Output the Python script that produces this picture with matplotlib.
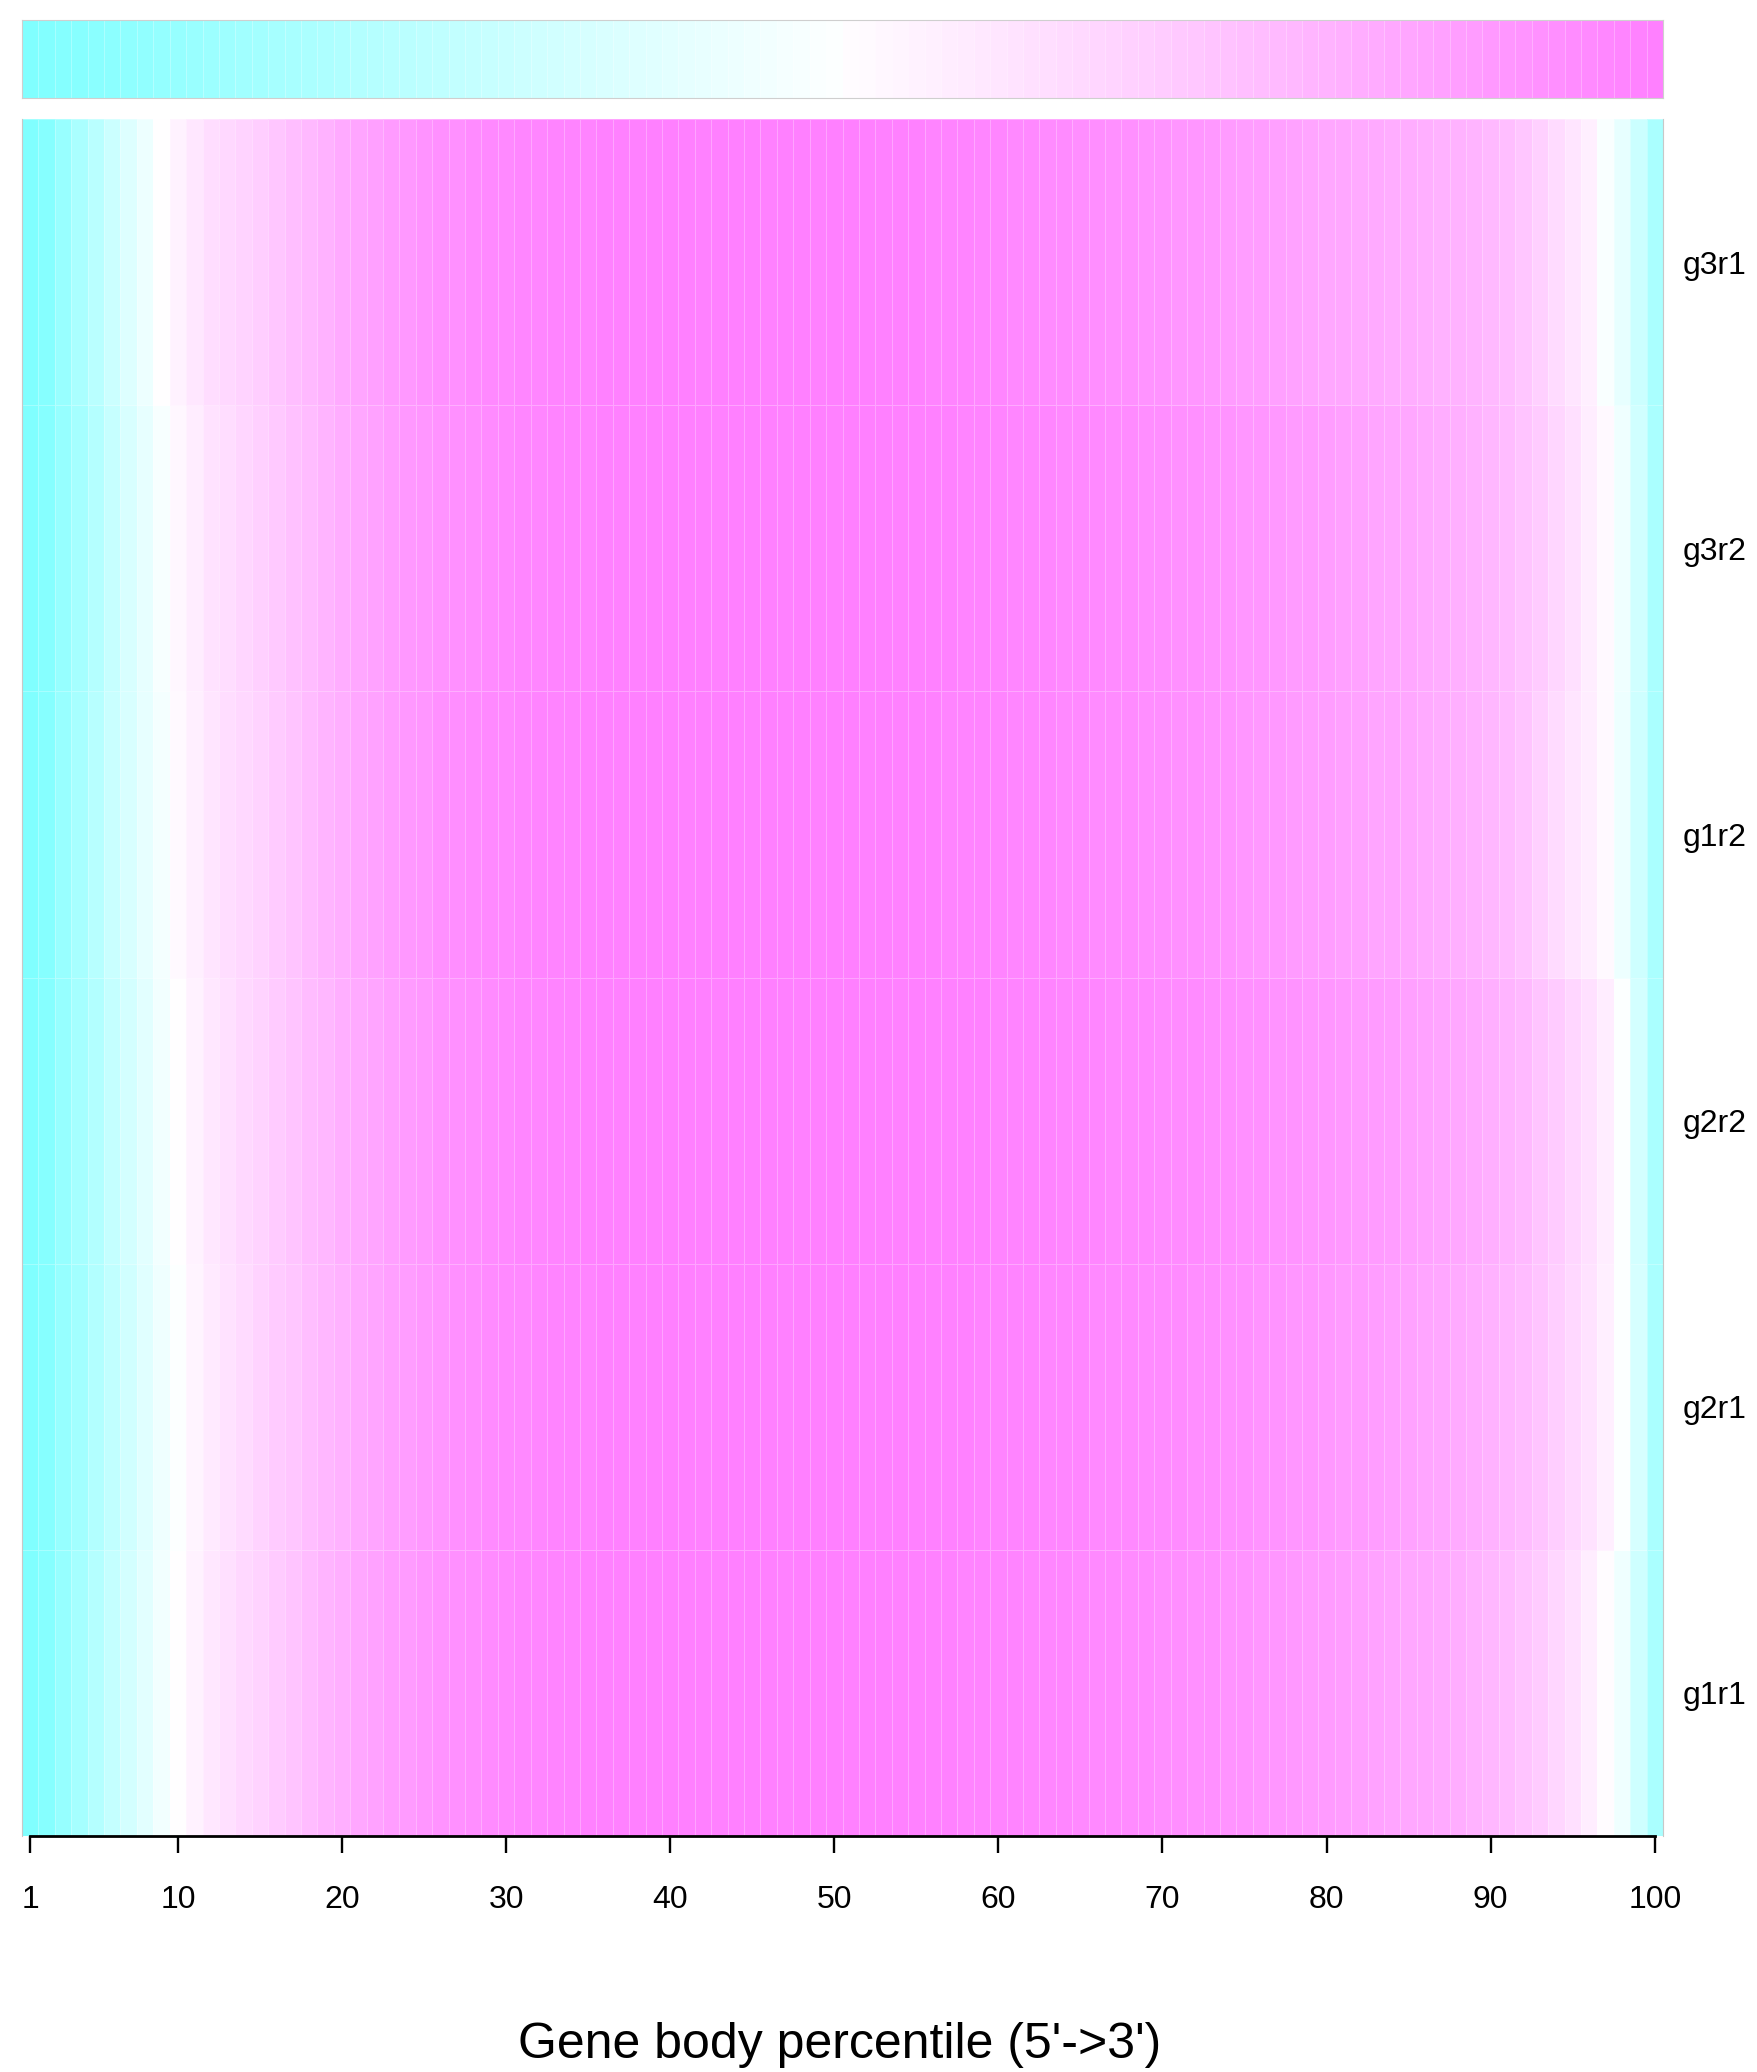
import numpy as np
import matplotlib
matplotlib.use("Agg")
import matplotlib.pyplot as plt
from matplotlib.colors import ListedColormap

plt.rcParams['font.family'] = ['Liberation Sans', 'DejaVu Sans']

# scaled gene body coverage (0 = min, 1 = max of each sample), percentiles 1..100
percentile = list(range(1, 101))

g3r1 = [0.00, 0.03, 0.10, 0.17, 0.23, 0.30, 0.37, 0.43, 0.50, 0.55,
        0.59, 0.63, 0.65, 0.67, 0.69, 0.72, 0.75, 0.77, 0.80, 0.83,
        0.85, 0.87, 0.89, 0.90, 0.92, 0.93, 0.93, 0.95, 0.96, 0.96,
        0.97, 0.97, 0.98, 0.98, 0.98, 0.99, 0.99, 0.99, 1.00, 1.00,
        1.00, 0.99, 1.00, 1.00, 1.00, 0.99, 1.00, 1.00, 0.99, 1.00,
        1.00, 1.00, 0.99, 0.99, 0.99, 0.98, 0.98, 0.98, 0.97, 0.97,
        0.96, 0.96, 0.95, 0.95, 0.94, 0.94, 0.93, 0.93, 0.92, 0.92,
        0.91, 0.91, 0.90, 0.89, 0.88, 0.88, 0.87, 0.86, 0.85, 0.84,
        0.84, 0.83, 0.83, 0.82, 0.82, 0.81, 0.80, 0.80, 0.79, 0.77,
        0.75, 0.72, 0.68, 0.64, 0.60, 0.56, 0.48, 0.41, 0.30, 0.17]

g3r2 = [0.00, 0.03, 0.09, 0.15, 0.21, 0.28, 0.35, 0.41, 0.47, 0.53,
        0.57, 0.61, 0.63, 0.66, 0.68, 0.71, 0.74, 0.76, 0.79, 0.82,
        0.84, 0.86, 0.88, 0.90, 0.91, 0.92, 0.93, 0.94, 0.95, 0.96,
        0.97, 0.97, 0.98, 0.98, 0.98, 0.99, 0.99, 0.99, 1.00, 1.00,
        1.00, 1.00, 0.99, 1.00, 1.00, 1.00, 0.99, 1.00, 1.00, 0.99,
        1.00, 1.00, 1.00, 0.99, 0.99, 0.99, 0.99, 0.98, 0.98, 0.98,
        0.97, 0.97, 0.97, 0.96, 0.96, 0.96, 0.95, 0.95, 0.94, 0.94,
        0.93, 0.93, 0.92, 0.92, 0.91, 0.91, 0.90, 0.89, 0.89, 0.88,
        0.87, 0.86, 0.85, 0.84, 0.84, 0.83, 0.82, 0.81, 0.80, 0.78,
        0.76, 0.73, 0.70, 0.66, 0.62, 0.57, 0.52, 0.44, 0.32, 0.17]

g1r2 = [0.00, 0.03, 0.10, 0.16, 0.22, 0.29, 0.35, 0.41, 0.46, 0.52,
        0.56, 0.60, 0.63, 0.65, 0.67, 0.70, 0.73, 0.76, 0.79, 0.81,
        0.84, 0.86, 0.88, 0.90, 0.91, 0.93, 0.94, 0.95, 0.96, 0.96,
        0.97, 0.98, 0.98, 0.98, 0.99, 0.99, 0.99, 1.00, 1.00, 1.00,
        0.99, 1.00, 1.00, 1.00, 0.99, 1.00, 1.00, 1.00, 0.99, 1.00,
        1.00, 0.99, 1.00, 0.99, 0.99, 0.99, 0.98, 0.98, 0.98, 0.98,
        0.97, 0.97, 0.97, 0.96, 0.96, 0.95, 0.95, 0.95, 0.94, 0.94,
        0.93, 0.93, 0.92, 0.92, 0.91, 0.90, 0.90, 0.89, 0.88, 0.88,
        0.87, 0.86, 0.85, 0.85, 0.84, 0.83, 0.82, 0.81, 0.80, 0.78,
        0.76, 0.73, 0.68, 0.64, 0.60, 0.57, 0.52, 0.43, 0.31, 0.17]

g2r2 = [0.00, 0.03, 0.09, 0.15, 0.20, 0.27, 0.33, 0.39, 0.45, 0.50,
        0.55, 0.59, 0.62, 0.65, 0.67, 0.70, 0.73, 0.76, 0.78, 0.81,
        0.83, 0.85, 0.87, 0.89, 0.90, 0.92, 0.93, 0.94, 0.95, 0.96,
        0.97, 0.97, 0.98, 0.98, 0.99, 0.99, 0.99, 1.00, 1.00, 1.00,
        1.00, 1.00, 0.99, 1.00, 1.00, 1.00, 1.00, 0.99, 1.00, 1.00,
        1.00, 1.00, 1.00, 0.99, 1.00, 0.99, 0.99, 0.99, 0.99, 0.98,
        0.98, 0.98, 0.98, 0.97, 0.97, 0.97, 0.96, 0.96, 0.96, 0.95,
        0.95, 0.95, 0.94, 0.94, 0.93, 0.93, 0.92, 0.92, 0.91, 0.91,
        0.90, 0.89, 0.89, 0.88, 0.87, 0.86, 0.85, 0.84, 0.83, 0.81,
        0.79, 0.77, 0.73, 0.70, 0.66, 0.62, 0.57, 0.49, 0.33, 0.17]

g2r1 = [0.00, 0.03, 0.09, 0.14, 0.20, 0.26, 0.32, 0.38, 0.44, 0.49,
        0.54, 0.58, 0.61, 0.64, 0.67, 0.70, 0.72, 0.75, 0.78, 0.80,
        0.83, 0.85, 0.87, 0.88, 0.90, 0.91, 0.93, 0.94, 0.95, 0.96,
        0.96, 0.97, 0.98, 0.98, 0.98, 0.99, 0.99, 0.99, 1.00, 1.00,
        1.00, 0.99, 1.00, 1.00, 1.00, 1.00, 0.99, 1.00, 1.00, 1.00,
        1.00, 0.99, 1.00, 1.00, 0.99, 0.99, 0.99, 0.99, 0.98, 0.98,
        0.98, 0.98, 0.97, 0.97, 0.97, 0.96, 0.96, 0.96, 0.95, 0.95,
        0.95, 0.94, 0.94, 0.93, 0.93, 0.92, 0.92, 0.91, 0.91, 0.90,
        0.89, 0.89, 0.88, 0.87, 0.86, 0.85, 0.84, 0.83, 0.82, 0.80,
        0.78, 0.76, 0.73, 0.69, 0.65, 0.61, 0.56, 0.49, 0.34, 0.17]

g1r1 = [0.00, 0.03, 0.09, 0.15, 0.21, 0.27, 0.33, 0.39, 0.45, 0.50,
        0.55, 0.59, 0.62, 0.65, 0.67, 0.70, 0.73, 0.76, 0.79, 0.81,
        0.84, 0.86, 0.88, 0.89, 0.91, 0.92, 0.93, 0.94, 0.95, 0.96,
        0.97, 0.97, 0.98, 0.98, 0.99, 0.99, 0.99, 1.00, 1.00, 1.00,
        1.00, 1.00, 0.99, 1.00, 1.00, 1.00, 0.99, 1.00, 1.00, 1.00,
        0.99, 1.00, 1.00, 0.99, 0.99, 0.99, 0.99, 0.98, 0.98, 0.98,
        0.98, 0.97, 0.97, 0.97, 0.96, 0.96, 0.96, 0.95, 0.95, 0.94,
        0.94, 0.93, 0.93, 0.92, 0.92, 0.91, 0.91, 0.90, 0.89, 0.89,
        0.88, 0.87, 0.86, 0.85, 0.84, 0.84, 0.83, 0.82, 0.80, 0.78,
        0.76, 0.73, 0.70, 0.66, 0.62, 0.57, 0.51, 0.44, 0.31, 0.17]

# bottom row first, like R's heatmap
sample_names = ['g1r1', 'g2r1', 'g2r2', 'g1r2', 'g3r2', 'g3r1']
sample_data = [g1r1, g2r1, g2r2, g1r2, g3r2, g3r1]

x_ticks = [1, 10, 20, 30, 40, 50, 60, 70, 80, 90, 100]


def cm_colors(n):
    # same palette as R's cm.colors(): cyan -> white -> magenta
    k = n // 2
    even = (n % 2 == 0)
    l1 = k + 1 - int(even)
    l2 = n - k + int(even)
    cyan_s = np.linspace(0.5, 0.5 / k if even else 0.0, l1)
    mag_s = np.linspace(0.0, 0.5, l2)[1:]
    cols = [(1 - s, 1.0, 1.0) for s in cyan_s] + [(1.0, 1 - s, 1.0) for s in mag_s]
    return cols


W, H = 1757, 2072
fig = plt.figure(figsize=(W / 100, H / 100), dpi=100)

left = 22 / W
width = 1641 / W
grid_col = (1, 1, 1, 0.28)

# column side colour bar
ax_bar = fig.add_axes([left, 1 - 98 / H, width, 78 / H])
bar_cmap = ListedColormap(cm_colors(100))
ax_bar.pcolormesh(np.arange(0.5, 101.5), [0, 1], np.array([percentile]),
                  cmap=bar_cmap, vmin=0.5, vmax=100.5,
                  edgecolors=grid_col, linewidth=0.7)
ax_bar.set_xlim(0.5, 100.5)
ax_bar.set_ylim(0, 1)
ax_bar.set_xticks([])
ax_bar.set_yticks([])
for sp in ax_bar.spines.values():
    sp.set_color('#cfcfcf')
    sp.set_linewidth(0.8)

# main heatmap
ax = fig.add_axes([left, 1 - 1836 / H, width, 1717 / H])
heat_cmap = ListedColormap(cm_colors(256))
Z = np.array(sample_data)
ax.pcolormesh(np.arange(0.5, 101.5), np.arange(len(sample_names) + 1), Z,
              cmap=heat_cmap, vmin=0, vmax=1,
              edgecolors=grid_col, linewidth=0.7)
ax.set_xlim(0.5, 100.5)
ax.set_ylim(0, len(sample_names))

ax.set_yticks(np.arange(len(sample_names)) + 0.5)
ax.set_yticklabels(sample_names, fontsize=23)
ax.yaxis.tick_right()
ax.tick_params(axis='y', length=0, pad=14)

ax.set_xticks(x_ticks)
ax.set_xticklabels([str(t) for t in x_ticks], fontsize=23)
ax.tick_params(axis='x', length=12, width=1.7, pad=23, color='black')

ax.spines['top'].set_visible(False)
ax.spines['left'].set_color('#c8c8c8')
ax.spines['left'].set_linewidth(0.8)
ax.spines['right'].set_color('#c8c8c8')
ax.spines['right'].set_linewidth(0.8)
ax.spines['bottom'].set_bounds(1, 100)
ax.spines['bottom'].set_linewidth(2.0)

fig.text(840 / W, 1 - 2045 / H, "Gene body percentile (5'->3')",
         fontsize=36, ha='center', va='center')

fig.savefig('out.png', dpi=100)
